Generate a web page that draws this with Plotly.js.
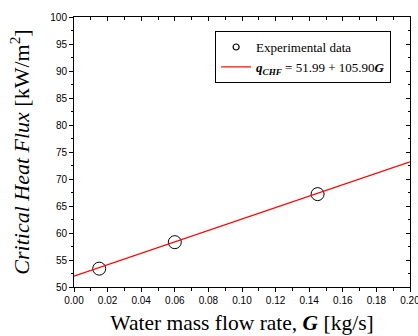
<!DOCTYPE html>
<html><head><meta charset="utf-8">
<script src="https://cdn.plot.ly/plotly-3.0.1.min.js"></script>
<style>html,body{margin:0;padding:0;background:#fff}</style>
</head><body>
<div id="chart" style="width:418px;height:336px"></div>
<script>
const expG = [0.015, 0.060, 0.145];
const expQ = [53.4, 58.3, 67.2];
const fitIntercept = 51.99;
const fitSlope = 105.90;
const fitG = [0.00, 0.20];
const fitQ = fitG.map(g => fitIntercept + fitSlope * g);
const xTicks = [0, 0.02, 0.04, 0.06, 0.08, 0.10, 0.12, 0.14, 0.16, 0.18, 0.20];
const xTickText = ['0.00','0.02','0.04','0.06','0.08','0.10','0.12','0.14','0.16','0.18','0.20'];
const yTicks = [50, 55, 60, 65, 70, 75, 80, 85, 90, 95, 100];

const serif = 'Liberation Serif, Times New Roman, serif';
const tickFont = {family: 'Liberation Sans, Arial, sans-serif', size: 10, color: '#000'};
const traces = [
  {x: expG, y: expQ, mode: 'markers', name: 'Experimental data', showlegend: false,
   marker: {symbol: 'circle-open', size: 13, color: '#000', line: {width: 1, color: '#000'}}},
  {x: [null], y: [null], mode: 'markers', name: 'Experimental data', showlegend: true,
   marker: {symbol: 'circle-open', size: 6, color: '#000', line: {width: 1.2, color: '#000'}}},
  {x: fitG, y: fitQ, mode: 'lines', name: '<b><i>q<sub>CHF</sub></i></b> = 51.99 + 105.90<b><i>G</i></b>',
   line: {color: '#ff0000', width: 1.2}},
  {x: [null], y: [null], xaxis: 'x2', yaxis: 'y2', mode: 'markers', showlegend: false, hoverinfo: 'skip'}
];
const layout = {
  width: 418, height: 336,
  margin: {l: 74, r: 8, t: 17, b: 49},
  paper_bgcolor: '#fff', plot_bgcolor: '#fff',
  showlegend: true,
  legend: {x: 0.42, y: 0.948, xanchor: 'left', yanchor: 'top',
    bordercolor: '#000', borderwidth: 1, bgcolor: '#fff',
    font: {family: serif, size: 13, color: '#000'},
    tracegroupgap: 0, itemwidth: 30},
  xaxis: {range: [0, 0.2], tickvals: xTicks, ticktext: xTickText, ticks: 'outside', ticklen: 4,
    tickwidth: 1, tickcolor: '#000', showline: true, linecolor: '#000', linewidth: 1,
    showgrid: false, zeroline: false, tickfont: tickFont, ticklabeloverflow: 'allow',
    minor: {dtick: 0.01, ticks: 'outside', ticklen: 2.5, tickcolor: '#000', showgrid: false},
    title: {text: 'Water mass flow rate, <b><i>G</i></b> [kg/s]', standoff: 9,
      font: {family: serif, size: 21.5, color: '#000'}}},
  yaxis: {range: [50, 100], tickvals: yTicks, ticks: 'outside', ticklen: 4,
    tickwidth: 1, tickcolor: '#000', showline: true, linecolor: '#000', linewidth: 1,
    showgrid: false, zeroline: false, tickfont: tickFont,
    minor: {dtick: 2.5, ticks: 'outside', ticklen: 2.5, tickcolor: '#000', showgrid: false},
    title: {text: '<i>Critical Heat Flux</i> [kW/m<sup>2</sup>]', standoff: 14,
      font: {family: serif, size: 22, color: '#000'}}},
  xaxis2: {overlaying: 'x', side: 'top', range: [0, 0.2], tickvals: xTicks, ticks: 'inside', ticklen: 4,
    tickcolor: '#000', showline: true, linecolor: '#000', linewidth: 1, showticklabels: false,
    showgrid: false, zeroline: false,
    minor: {dtick: 0.01, ticks: 'inside', ticklen: 2.5, tickcolor: '#000', showgrid: false}},
  yaxis2: {overlaying: 'y', side: 'right', range: [50, 100], tickvals: yTicks, ticks: 'inside', ticklen: 4,
    tickcolor: '#000', showline: true, linecolor: '#000', linewidth: 1, showticklabels: false,
    showgrid: false, zeroline: false,
    minor: {dtick: 2.5, ticks: 'inside', ticklen: 2.5, tickcolor: '#000', showgrid: false}}
};
Plotly.newPlot('chart', traces, layout, {displayModeBar: false, staticPlot: true});
</script>
</body></html>
